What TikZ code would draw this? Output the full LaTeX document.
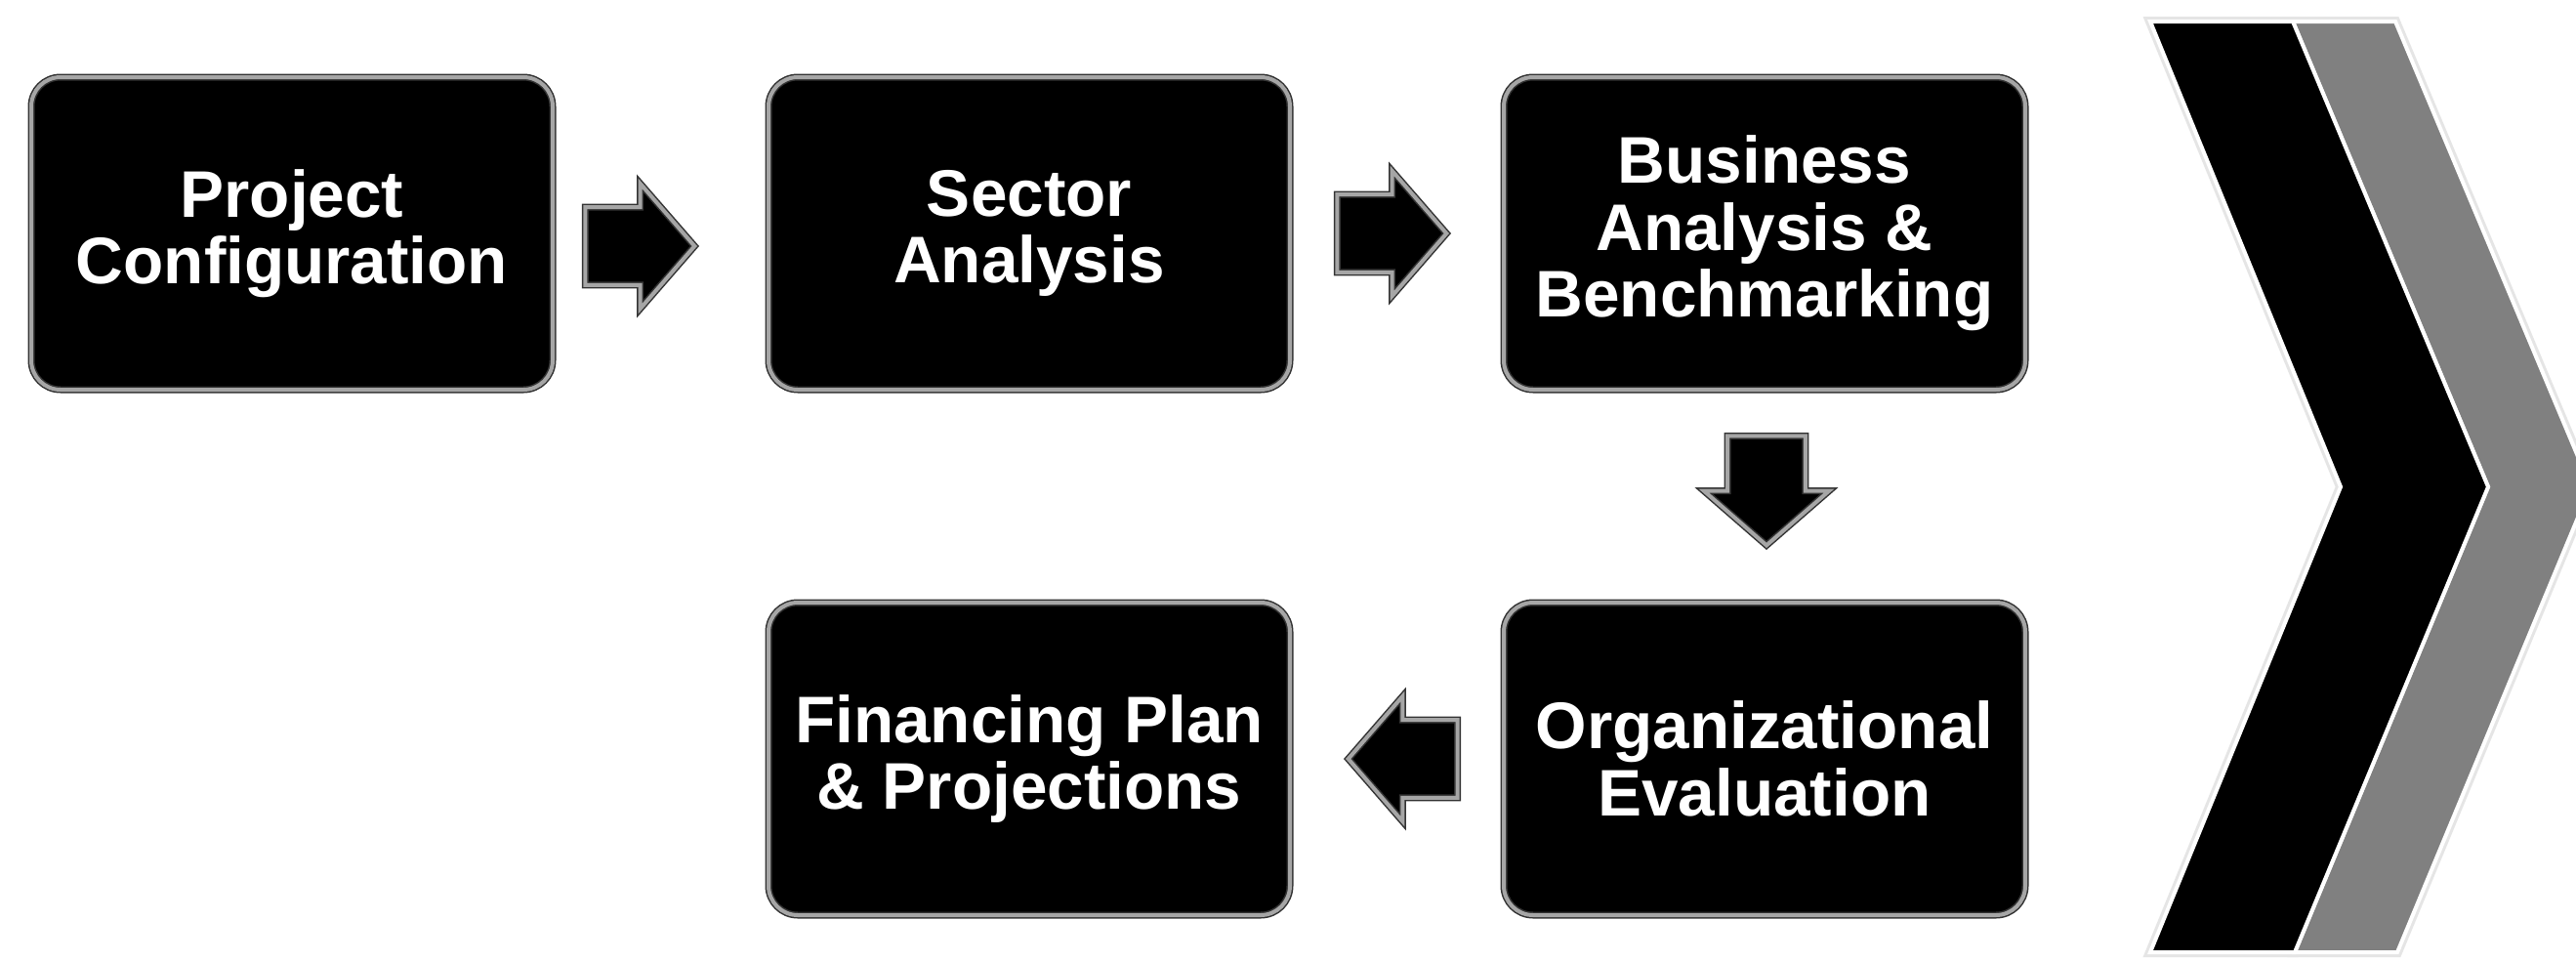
\documentclass[tikz,border=0pt]{standalone}
\usepackage{fontspec}
\setmainfont{Liberation Sans}
\usepackage{tikz}
\usetikzlibrary{shapes.arrows}

\begin{document}
\begin{tikzpicture}[
    stagebox/.style={rectangle, rounded corners=0.3cm, minimum width=5.34cm, minimum height=3.2cm,
        fill=black, draw=black!80, double=gray!70, double distance=0.4mm, line width=0.15mm,
        text=white, align=center, inner sep=0,
        font=\bfseries\fontsize{19.2}{19.5}\selectfont},
    blockarrow/.style={single arrow, minimum height=1.12cm, minimum width=1.28cm,
        single arrow head extend=0.24cm, single arrow tip angle=98, inner xsep=0, inner ysep=0.39cm,
        fill=black, draw=black!80, double=gray!70, double distance=0.4mm, line width=0.15mm},
    chevglow/.style={draw=gray!20, line width=1mm, line join=miter},
    chevline/.style={draw=white, line width=0.4mm, line join=miter}
    ]

    \path[use as bounding box, fill=white] (0,0) rectangle (26.38,-9.84);

    % the five stages
    \node[stagebox] (proj) at (2.99,-2.39) {Project\\Configuration};
    \node[stagebox] (sector) at (10.54,-2.39) {Sector\\Analysis};
    \node[stagebox] (bench) at (18.07,-2.39) {Business\\Analysis \&\\Benchmarking};
    \node[stagebox] (org) at (18.07,-7.77) {Organizational\\Evaluation};
    \node[stagebox] (fin) at (10.54,-7.77) {Financing Plan\\\& Projections};

    % arrows between the stages
    \node[blockarrow] (a1) at (6.38,-2.52) {};
    \node[blockarrow] (a2) at (14.08,-2.39) {};
    \node[blockarrow, rotate=-90] (a3) at (18.09,-4.85) {};
    \node[blockarrow, rotate=180] (a4) at (14.54,-7.77) {};

    % chevrons on the right
    \path[chevglow] (23.48,-0.22) -- (24.53,-0.22) -- (26.53,-4.985) -- (24.55,-9.75) -- (23.50,-9.75) -- (25.48,-4.985) -- cycle;
    \path[chevglow] (22.02,-0.22) -- (23.48,-0.22) -- (25.48,-4.985) -- (23.50,-9.75) -- (22.02,-9.75) -- (23.97,-4.985) -- cycle;
    \path[chevline, fill=black!50] (23.48,-0.22) -- (24.53,-0.22) -- (26.53,-4.985) -- (24.55,-9.75) -- (23.50,-9.75) -- (25.48,-4.985) -- cycle;
    \path[chevline, fill=black] (22.02,-0.22) -- (23.48,-0.22) -- (25.48,-4.985) -- (23.50,-9.75) -- (22.02,-9.75) -- (23.97,-4.985) -- cycle;

\end{tikzpicture}
\end{document}
